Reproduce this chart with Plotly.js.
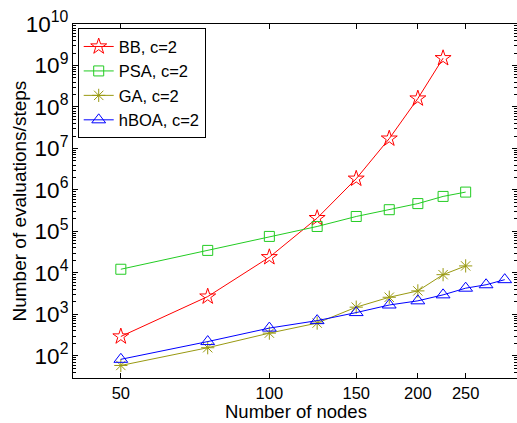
<!DOCTYPE html>
<html><head><meta charset="utf-8">
<script src="https://cdn.plot.ly/plotly-3.0.1.min.js"></script>
<style>html,body{margin:0;padding:0;background:#fff}</style>
</head><body><div id="chart" style="width:517px;height:423px"></div>
<script>
const bbNodes = [50, 75, 100, 125, 150, 175, 200, 225];
const bbValues = [295, 2700, 24000, 210000, 1870000, 17300000, 160000000, 1500000000];
const psaNodes = [50, 75, 100, 125, 150, 175, 200, 225, 250];
const psaValues = [12300, 35000, 76000, 132000, 230000, 335000, 470000, 700000, 890000];
const gaNodes = [50, 75, 100, 125, 150, 175, 200, 225, 250];
const gaValues = [59, 158, 355, 620, 1500, 2600, 3700, 9100, 14800];
const hboaNodes = [50, 75, 100, 125, 150, 175, 200, 225, 250, 275, 300];
const hboaValues = [83, 222, 470, 710, 1110, 1690, 2130, 2970, 4300, 5200, 6900];
const xTickVals = [50, 100, 150, 200, 250];
const xTickText = ['50', '100', '150', '200', '250'];
const seriesNames = ['BB, c=2', 'PSA, c=2', 'GA, c=2', 'hBOA, c=2'];
const xTitle = 'Number of nodes';
const yTitle = 'Number of evaluations/steps';

const font = 'Liberation Sans, Arial, Helvetica, sans-serif';
function tr(x, y, name, color, symbol, size) {
  return {x: x, y: y, name: name, type: 'scatter', mode: 'lines+markers',
    line: {color: color, width: 1},
    marker: {symbol: symbol, size: size, color: color, line: {color: color, width: 1}}};
}
const data = [
  tr(bbNodes, bbValues, seriesNames[0], '#ff0000', 'star-open', 12),
  tr(psaNodes, psaValues, seriesNames[1], '#22cc22', 'square-open', 10),
  tr(gaNodes, gaValues, seriesNames[2], '#999911', 'asterisk-open', 11),
  tr(hboaNodes, hboaValues, seriesNames[3], '#0000ff', 'triangle-up-open', 12)
];
const layout = {
  width: 517, height: 423,
  margin: {l: 73, r: 0, t: 24, b: 45},
  paper_bgcolor: '#fff', plot_bgcolor: '#fff',
  font: {family: font, size: 18, color: '#000'},
  showlegend: true,
  legend: {x: 0.0106, y: 0.988, xanchor: 'left', yanchor: 'top',
    bgcolor: '#fff', bordercolor: '#000', borderwidth: 1,
    font: {family: font, size: 16.5, color: '#000'}, tracegroupgap: 0},
  xaxis: {type: 'log', range: [1.602, 2.502], tickmode: 'array',
    tickvals: xTickVals, ticktext: xTickText,
    ticks: 'inside', ticklen: 5, tickcolor: '#000',
    showline: true, linecolor: '#000', linewidth: 1, mirror: 'ticks',
    showgrid: false, zeroline: false,
    tickfont: {family: font, size: 16.5}},
  yaxis: {type: 'log', range: [1.469, 10], dtick: 1, exponentformat: 'power',
    ticks: 'inside', ticklen: 5, tickcolor: '#000',
    minor: {ticks: 'inside', ticklen: 3, tickcolor: '#000', dtick: 'D1', showgrid: false},
    showline: true, linecolor: '#000', linewidth: 1, mirror: 'ticks',
    showgrid: false, zeroline: false,
    tickfont: {family: font, size: 18}},
  annotations: [
    {text: yTitle, xref: 'paper', yref: 'paper', x: -0.1205, y: 0.5,
      xanchor: 'center', yanchor: 'middle', textangle: -90, showarrow: false,
      font: {family: font, size: 19, color: '#000'}},
    {text: xTitle, xref: 'paper', yref: 'paper', x: 0.502, y: -0.1271,
      xanchor: 'center', yanchor: 'bottom', showarrow: false, borderpad: 0,
      font: {family: font, size: 18.5, color: '#000'}}
  ]
};
Plotly.newPlot('chart', data, layout, {displayModeBar: false, staticPlot: true});
</script></body></html>
